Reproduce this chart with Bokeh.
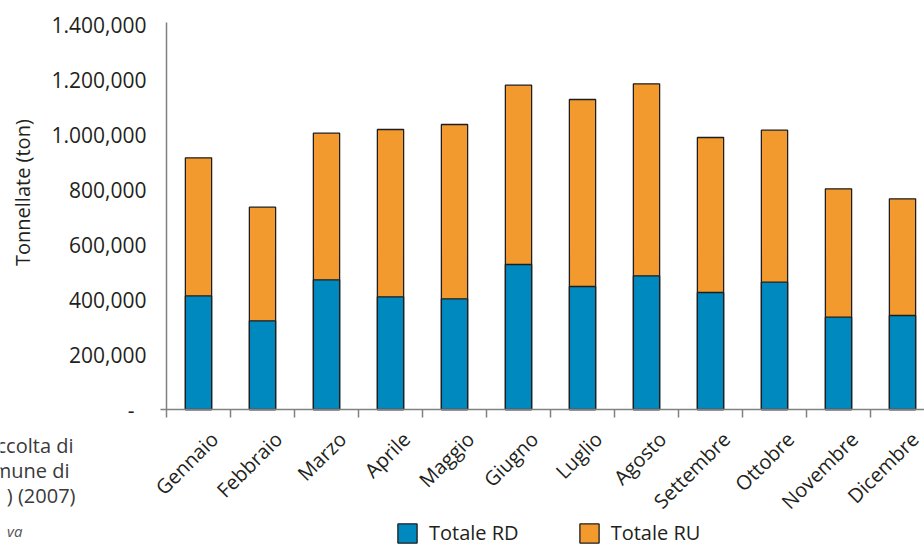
from bokeh.plotting import figure
from bokeh.models import (Range1d, FixedTicker, Legend, LegendItem, Label,
                          ColumnDataSource)
from bokeh.embed import file_html
from bokeh.resources import INLINE
import math

months = ["Gennaio", "Febbraio", "Marzo", "Aprile", "Maggio", "Giugno",
          "Luglio", "Agosto", "Settembre", "Ottobre", "Novembre", "Dicembre"]
totale_rd = [413000, 322500, 471600, 409800, 402500, 527300,
             447300, 486200, 425500, 463000, 335600, 341800]
totale_ru = [915300, 735600, 1004700, 1018200, 1036400, 1179300,
             1127300, 1184400, 989100, 1015600, 802500, 766200]
y_ticks = [0, 200000, 400000, 600000, 800000, 1000000, 1200000, 1400000]
y_tick_labels = ["-\u2007", "200,000", "400,000", "600,000", "800,000",
                 "1.000,000", "1.200,000", "1.400,000"]
caption_fragments = ["ccolta di", "mune di", ") (2007)"]
source_fragment = "va"

FONT = "Open Sans"
BLUE = "#0089BE"
ORANGE = "#F39A2E"
AXIS = "#808080"
TXT = "#231f20"

W, H = 924, 544
X0, Y0 = 166, 409          # pixel position of the axes origin
PX_X = 64.0                # pixels per category
PX_Y = 275e-6              # pixels per tonne

xpos = [i + 0.5 for i in range(len(months))]
label_pos = [x + 0.25 for x in xpos]
src = ColumnDataSource(dict(x=xpos, rd=totale_rd, ru=totale_ru))

p = figure(width=W, height=H, output_backend="svg", toolbar_location=None,
           x_range=Range1d(-X0 / PX_X, (W - X0) / PX_X),
           y_range=Range1d(-(H - Y0) / PX_Y, Y0 / PX_Y),
           min_border=0)
p.outline_line_color = None
p.xgrid.visible = False
p.ygrid.visible = False

r_ru = p.vbar(x="x", top="ru", bottom=0, width=0.41, source=src,
              fill_color=ORANGE, line_color="#1e1e1e", line_width=1.3)
r_rd = p.vbar(x="x", top="rd", bottom=0, width=0.41, source=src,
              fill_color=BLUE, line_color="#1e1e1e", line_width=1.3)

# y axis
ya = p.yaxis[0]
ya.fixed_location = 0
ya.bounds = (0, 1407000)
ya.ticker = FixedTicker(ticks=y_ticks)
ya.major_label_overrides = {t: l for t, l in zip(y_ticks, y_tick_labels)}
ya.major_tick_out = 0
ya.major_tick_in = 0
ya.minor_tick_out = 0
ya.minor_tick_in = 0
ya.axis_line_color = AXIS
ya.axis_line_width = 1.5
ya.major_label_text_font = FONT
ya.major_label_text_font_size = "21px"
ya.major_label_text_color = TXT
ya.major_label_standoff = 20
ya.axis_label = "\u00a0" * 9 + "Tonnellate (ton)"
ya.axis_label_text_font = FONT
ya.axis_label_text_font_size = "20px"
ya.axis_label_text_font_style = "normal"
ya.axis_label_text_color = TXT
ya.axis_label_standoff = 12

# x axis
xa = p.xaxis[0]
xa.fixed_location = 0
xa.bounds = (-0.1, 12)
xa.ticker = FixedTicker(ticks=label_pos, minor_ticks=list(range(0, 13)))
xa.major_label_overrides = {x: m for x, m in zip(label_pos, months)}
xa.major_tick_out = 0
xa.major_tick_in = 0
xa.minor_tick_out = 8
xa.minor_tick_in = 0
xa.minor_tick_line_color = AXIS
xa.minor_tick_line_width = 1.5
xa.axis_line_color = AXIS
xa.axis_line_width = 1.5
xa.major_label_orientation = math.pi / 4
xa.major_label_text_font = FONT
xa.major_label_text_font_size = "20px"
xa.major_label_text_color = TXT
xa.major_label_standoff = 18

legend = Legend(items=[LegendItem(label="Totale RD", renderers=[r_rd]),
                       LegendItem(label="Totale RU", renderers=[r_ru])],
                orientation="horizontal", location=(395, -2),
                glyph_width=24, glyph_height=24, label_standoff=10,
                spacing=58, padding=4, margin=0,
                label_text_font=FONT, label_text_font_size="20px",
                label_text_color=TXT,
                border_line_color=None, background_fill_alpha=0)
p.add_layout(legend)

for txt, (lx, ly) in zip(caption_fragments, [(73, 99), (69, 74), (75, 49)]):
    p.add_layout(Label(x=lx, y=ly, x_units="screen", y_units="screen",
                       text=txt, text_align="right", text_baseline="middle",
                       text_font=FONT, text_font_size="20px",
                       text_color="#3a3a3a"))
p.add_layout(Label(x=22, y=14, x_units="screen", y_units="screen",
                   text=source_fragment, text_align="right",
                   text_baseline="middle", text_font=FONT,
                   text_font_size="15px", text_font_style="italic",
                   text_color="#555555"))

open("out.html", "w").write(file_html(p, INLINE))
